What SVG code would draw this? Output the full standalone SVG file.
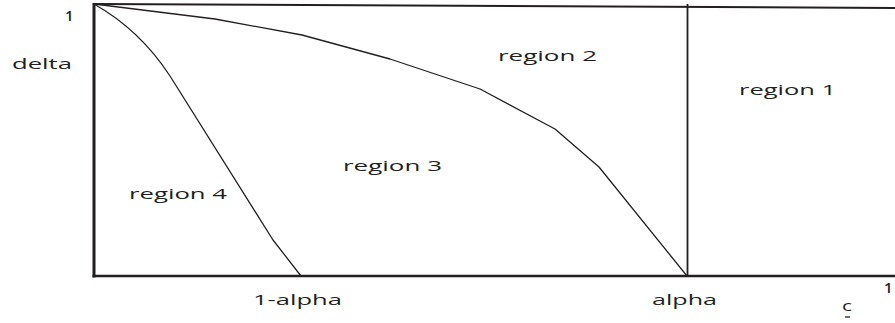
<svg xmlns="http://www.w3.org/2000/svg" width="895" height="323" viewBox="0 0 895 323">
<style>
.ax{stroke:#231f20;fill:none;stroke-linecap:butt}
.cv{stroke:#231f20;fill:none;stroke-width:1.3;stroke-linejoin:round}
.t{font-family:"Open Sans","DejaVu Sans",sans-serif;font-size:15px;fill:#231f20}
.s{font-size:15px;font-weight:600}
</style>
<rect width="895" height="323" fill="#fff"/>
<g id="connectors">
<line class="ax" x1="94" y1="3" x2="94" y2="277.5" stroke-width="3"/>
<line class="ax" x1="92.5" y1="276" x2="895" y2="276" stroke-width="2.5"/>
<line class="ax" x1="94" y1="4" x2="895" y2="8" stroke-width="2"/>
<line class="ax" x1="687.5" y1="4" x2="687.5" y2="276" stroke-width="1.8"/>
<polyline class="cv" points="94,4 215,19 302,35 390,59 480,89 555,129 599,167 687,276"/>
<path class="cv" d="M94,4 Q140,30 170,76 L273,240 L301,276"/>
<line class="ax" x1="845" y1="317" x2="850" y2="317" stroke-width="1.3"/>
</g>
<g id="label-1-top"><text class="t s" x="65" y="21">1</text></g>
<g id="label-delta"><text class="t" x="12" y="69" textLength="60" lengthAdjust="spacingAndGlyphs">delta</text></g>
<g id="region-2"><text class="t" x="498" y="61" textLength="99" lengthAdjust="spacingAndGlyphs">region 2</text></g>
<g id="region-1"><text class="t" x="739" y="95" textLength="97" lengthAdjust="spacingAndGlyphs">region 1</text></g>
<g id="region-3"><text class="t" x="343" y="171" textLength="99" lengthAdjust="spacingAndGlyphs">region 3</text></g>
<g id="region-4"><text class="t" x="129" y="199" textLength="98" lengthAdjust="spacingAndGlyphs">region 4</text></g>
<g id="label-1-alpha"><text class="t" x="253" y="305" textLength="89" lengthAdjust="spacingAndGlyphs">1-alpha</text></g>
<g id="label-alpha"><text class="t" x="652" y="305" textLength="65" lengthAdjust="spacingAndGlyphs">alpha</text></g>
<g id="label-1-right"><text class="t s" x="884" y="293">1</text></g>
<g id="label-c"><text class="t" x="842" y="311" textLength="10" lengthAdjust="spacingAndGlyphs">c</text></g>
</svg>
